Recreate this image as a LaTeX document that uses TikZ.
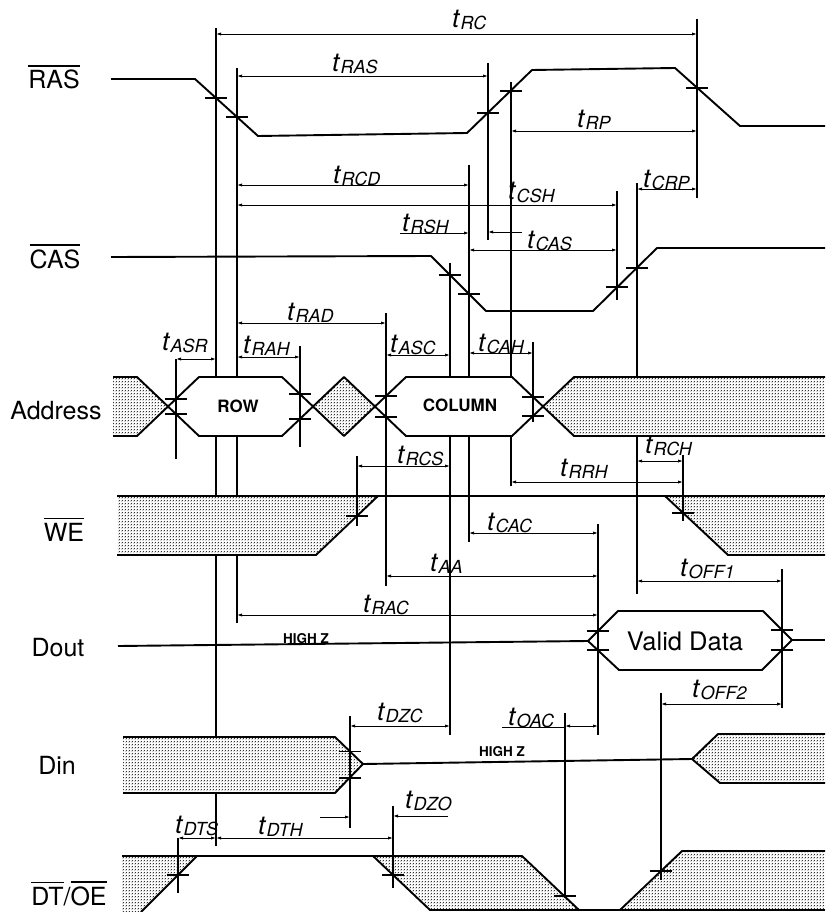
\documentclass[tikz,border=0pt]{standalone}
\usepackage{fontspec}
\setmainfont{TeX Gyre Heros}
\usetikzlibrary{arrows.meta,patterns}
\pgfdeclarepatternformonly{stipple}{\pgfpointorigin}{\pgfqpoint{3.4pt}{3.4pt}}{\pgfqpoint{3.4pt}{3.4pt}}{%
  \pgfpathcircle{\pgfqpoint{0pt}{0pt}}{0.85pt}%
  \pgfpathcircle{\pgfqpoint{1.7pt}{1.7pt}}{0.85pt}%
  \pgfusepathqfill}
\newcommand\ovl[1]{\vbox{\hrule height 1.4pt\kern 3.5pt\hbox{#1}}}
\newcommand\tlab[1]{{\fontsize{26}{26}\selectfont\itshape t}\kern1.2pt\raisebox{-2pt}{\fontsize{18}{18}\selectfont\itshape #1}}
\newcommand\crossmk[2]{\draw[crossmark] ({#1-11},#2) -- ({#1+11},#2);}
\begin{document}
\begin{tikzpicture}[x=1pt,y=-1pt,
  sig/.style={line width=1.9pt,line join=round},
  guide/.style={line width=1.2pt},
  dim/.style={line width=0.9pt,{Latex[length=5pt,width=3.2pt]}-{Latex[length=5pt,width=3.2pt]}},
  rdim/.style={line width=0.9pt,-{Latex[length=5pt,width=3.2pt]}},
  crossmark/.style={line width=1.1pt},
  hatch/.style={preaction={fill=white},pattern=stipple,pattern color=black!80},
  whitefill/.style={fill=white},
  siglab/.style={font=\fontsize{25}{25}\selectfont,inner sep=0pt,anchor=base},
  tlb/.style={inner sep=0pt,anchor=base west},
  hz/.style={font=\fontsize{13.5}{13.5}\selectfont\bfseries,inner sep=0pt,anchor=base},
  boxlab/.style={font=\fontsize{17}{17}\selectfont\bfseries,inner sep=0pt,anchor=base}]
\useasboundingbox (0,0) rectangle (825,912);

% long guide lines (interrupted by signal regions)
\draw[guide] (216,28) -- (216,846);
\draw[guide] (237,68) -- (237,623);
\draw[guide] (511,82) -- (511,486);
\draw[guide] (469,165) -- (469,542);
\draw[guide] (450,263) -- (450,735);
\draw[guide] (637,183) -- (637,594);

% RAS
\draw[sig] (111,79) -- (195,79) -- (258,136) -- (467,133) -- (532,70) -- (675,68) -- (740,126) -- (825,126);
% CAS
\draw[sig] (111,257) -- (431,256) -- (486,311) -- (593,311) -- (657,248) -- (825,248);

% Address
\fill[hatch] (113,377) -- (137,377) -- (168,406.5) -- (137,436) -- (113,436) -- cycle;
\fill[whitefill] (168,406.5) -- (199,377) -- (282,377) -- (313,406.5) -- (282,436) -- (199,436) -- cycle;
\fill[hatch] (313,406.5) -- (344,377) -- (375,406.5) -- (344,436) -- cycle;
\fill[whitefill] (375,406.5) -- (406,377) -- (512,377) -- (543,406.5) -- (512,436) -- (406,436) -- cycle;
\fill[hatch] (543,406.5) -- (574,377) -- (825,377) -- (825,436) -- (574,436) -- cycle;
\draw[sig] (113,377) -- (137,377) -- (199,436) -- (282,436) -- (344,377) -- (406,436) -- (512,436) -- (574,377) -- (825,377);
\draw[sig] (113,436) -- (137,436) -- (199,377) -- (282,377) -- (344,436) -- (406,377) -- (512,377) -- (574,436) -- (825,436);

% WE
\fill[hatch] (117,496) -- (378,496) -- (316,555) -- (117,555) -- cycle;
\fill[hatch] (665,496) -- (825,496) -- (825,555) -- (728,555) -- cycle;
\draw[sig] (117,496) -- (825,496);
\draw[sig] (117,555) -- (316,555) -- (378,496);
\draw[sig] (665,496) -- (728,555) -- (825,555);

% Dout
\draw[sig] (118,646) -- (588,641);
\draw[sig] (588,641) -- (618,611) -- (763,611) -- (792,640) -- (762,670) -- (619,670) -- cycle;
\draw[sig] (792,640) -- (825,640);

% Din
\fill[hatch] (123,737) -- (335,737) -- (363,764) -- (335,793) -- (123,793) -- cycle;
\draw[sig] (123,737) -- (335,737) -- (363,764) -- (335,793) -- (123,793);
\draw[sig] (363,764) -- (692,759);
\fill[hatch] (692,759) -- (718,734) -- (825,734) -- (825,783) -- (720,783) -- cycle;
\draw[sig] (825,734) -- (718,734) -- (692,759) -- (720,783) -- (825,783);

% DT/OE
\fill[hatch] (122,856) -- (197,856) -- (141,912) -- (122,912) -- cycle;
\fill[hatch] (373,856) -- (522,856) -- (579,910) -- (430,910) -- cycle;
\fill[hatch] (682,851) -- (825,851) -- (825,910) -- (620,910) -- cycle;
\draw[sig] (122,856) -- (373,856) -- (430,910) -- (620,910) -- (682,851) -- (825,851);
\draw[sig] (141,912) -- (197,856);
\draw[sig] (373,856) -- (522,856) -- (579,910);
\draw[sig] (620,910) -- (825,910);

% short guide lines
\draw[guide] (488,63) -- (488,240);
\draw[guide] (617,191) -- (617,300);
\draw[guide] (697,19) -- (697,198);
\draw[guide] (176,359) -- (176,459);
\draw[guide] (300,346) -- (300,447);
\draw[guide] (386,313) -- (386,586);
\draw[guide] (533,342) -- (533,422);
\draw[guide] (357,456) -- (357,526);
\draw[guide] (683,455) -- (683,521);
\draw[guide] (598,524) -- (598,735);
\draw[guide] (782,569) -- (782,708);
\draw[guide] (661,693) -- (661,880);
\draw[guide] (565,713) -- (565,898);
\draw[guide] (350,716) -- (350,828);
\draw[guide] (393,806) -- (393,888);
\draw[guide] (178,838) -- (178,893);

% cross marks
\crossmk{216}{98}\crossmk{237}{117}\crossmk{488}{113}\crossmk{511}{91}\crossmk{697}{88}
\crossmk{450}{275}\crossmk{469}{294}\crossmk{617}{287}\crossmk{637}{268}
\crossmk{176}{399}\crossmk{176}{414}\crossmk{300}{394}\crossmk{300}{419}
\crossmk{386}{396}\crossmk{386}{417}\crossmk{533}{397}\crossmk{533}{416}
\crossmk{357}{516}\crossmk{683}{513}
\crossmk{598}{631}\crossmk{598}{650}\crossmk{782}{630}\crossmk{782}{650}
\crossmk{350}{751.5}\crossmk{350}{778}
\crossmk{178}{875}\crossmk{393}{875}\crossmk{565}{896}\crossmk{661}{871}

% dimension arrows
\draw[dim] (216,34) -- (697,34);
\draw[dim] (237,76) -- (488,76);
\draw[dim] (511,131) -- (697,131);
\draw[dim] (237,185) -- (469,185);
\draw[dim] (237,205) -- (617,205);
\draw[rdim] (400,233) -- (469,233);
\draw[rdim] (522,232) -- (488,232);
\draw[dim] (469,250) -- (617,250);
\draw[dim] (637,189) -- (697,189);
\draw[dim] (237,323) -- (386,323);
\draw[dim] (176,359) -- (216,359);
\draw[dim] (237,357) -- (300,357);
\draw[dim] (386,355) -- (450,355);
\draw[dim] (469,353) -- (533,353);
\draw[dim] (357,466) -- (450,466);
\draw[dim] (637,461) -- (683,461);
\draw[dim] (511,482) -- (683,482);
\draw[dim] (469,533) -- (598,533);
\draw[dim] (386,576) -- (598,576);
\draw[dim] (637,581) -- (782,581);
\draw[dim] (237,615) -- (598,615);
\draw[dim] (661,704) -- (782,704);
\draw[line width=0.9pt] (502,727) -- (565,727);
\draw[dim] (565,726) -- (598,726);
\draw[dim] (350,726) -- (450,726);
\draw[dim] (178,838) -- (216,838);
\draw[dim] (216,838) -- (393,838);
\draw[rdim] (320,817) -- (350,817);
\draw[rdim] (448,816) -- (393,816);

% signal labels
\node[siglab] (nRAS) at (54,89) {\ovl{RAS}};
\node[siglab] (nCAS) at (55,268) {\ovl{CAS}};
\node[siglab] (nAddr) at (56,419) {Address};
\node[siglab] (nWE) at (64,541) {\ovl{WE}};
\node[siglab] (nDout) at (58,656) {Dout};
\node[siglab] (nDin) at (57,774) {Din};
\node[siglab] (nDTOE) at (69,905) {\ovl{DT}/\ovl{OE}};
\node[boxlab] (nROW) at (238,412) {ROW};
\node[boxlab] (nCOL) at (460,411) {COLUMN};
\node[hz] (hz1) at (306,643) {HIGH Z};
\node[hz] (hz2) at (502,756) {HIGH Z};
\node[font=\fontsize{25.5}{25.5}\selectfont,inner sep=0pt,anchor=base] (nVD) at (685,650) {Valid Data};

% timing labels
\node[tlb] (lRC) at (452,28) {\tlab{RC}};
\node[tlb] (lRAS) at (332,72) {\tlab{RAS}};
\node[tlb] (lRP) at (577,128) {\tlab{RP}};
\node[tlb] (lRCD) at (333,183) {\tlab{RCD}};
\node[tlb] (lCSH) at (508,200) {\tlab{CSH}};
\node[tlb] (lRSH) at (402,231) {\tlab{RSH}};
\node[tlb] (lCAS) at (527,248) {\tlab{CAS}};
\node[tlb] (lCRP) at (643,187) {\tlab{CRP}};
\node[tlb] (lRAD) at (287,320) {\tlab{RAD}};
\node[tlb] (lASR) at (162,350) {\tlab{ASR}};
\node[tlb] (lRAH) at (243,353) {\tlab{RAH}};
\node[tlb] (lASC) at (390,352) {\tlab{ASC}};
\node[tlb] (lCAH) at (478,351) {\tlab{CAH}};
\node[tlb] (lRCS) at (397,463) {\tlab{RCS}};
\node[tlb] (lRCH) at (645,453) {\tlab{RCH}};
\node[tlb] (lRRH) at (560,476) {\tlab{RRH}};
\node[tlb] (lCAC) at (487,530) {\tlab{CAC}};
\node[tlb] (lAA) at (430,571) {\tlab{AA}};
\node[tlb] (lOFF1) at (680,576) {\tlab{OFF1}};
\node[tlb] (lRAC) at (363,612) {\tlab{RAC}};
\node[tlb] (lOFF2) at (692,697) {\tlab{OFF2}};
\node[tlb] (lOAC) at (508,725) {\tlab{OAC}};
\node[tlb] (lDZC) at (377,720) {\tlab{DZC}};
\node[tlb] (lDTS) at (175,833) {\tlab{DTS}};
\node[tlb] (lDTH) at (258,834) {\tlab{DTH}};
\node[tlb] (lDZO) at (405,808) {\tlab{DZO}};
\end{tikzpicture}
\end{document}
